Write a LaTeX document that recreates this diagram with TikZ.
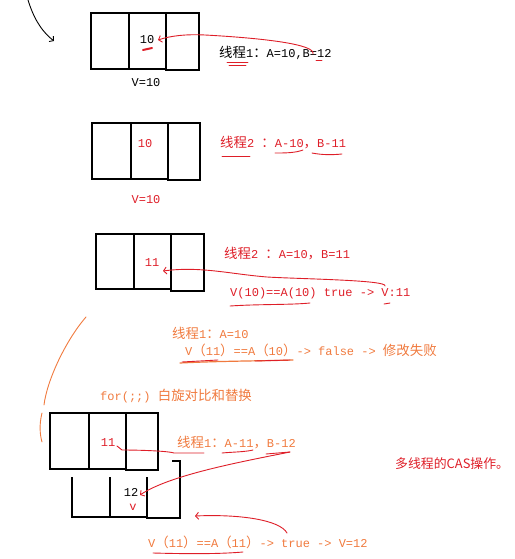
\documentclass[tikz,border=0pt]{standalone}
\usepackage{fontspec}
\setmainfont{Liberation Mono}
\newfontfamily\cjk[Scale=1.12]{Noto Sans CJK SC}
\usetikzlibrary{arrows.meta}
\newcommand\Cj[1]{{\cjk #1}}
\definecolor{myred}{RGB}{222,30,40}
\definecolor{myorange}{RGB}{240,122,62}
\tikzset{
  cell/.style={draw, line width=1.8pt, inner sep=0pt},
  txt/.style={inner sep=0pt, font=\fontsize{12}{14}\selectfont},
  ltxt/.style={txt, anchor=west},
  redline/.style={myred, line width=0.9pt, line cap=round},
  orline/.style={myorange, line width=0.9pt, line cap=round},
  barb/.style={-{Straight Barb[length=3pt,width=7pt]}},
}
\begin{document}
\begin{tikzpicture}[x=1pt,y=-1pt]
\useasboundingbox (0,0) rectangle (514,559);
% ---------- box 1
\node[cell, minimum width=38pt, minimum height=56pt] (b1a) at (110,41) {};
\node[cell, minimum width=37pt, minimum height=56pt] (b1b) at (147.5,41) {};
\node[cell, minimum width=33pt, minimum height=57pt] (b1c) at (182.5,41.5) {};
\node[txt] (v1) at (147,40) {10};
\node[txt] (l1) at (146,83) {V=10};
\node[ltxt] (t1) at (219,53) {\Cj{线程}1\Cj{：}A=10,B=12};
\draw[myred, line width=2pt, line cap=round] (143,50) -- (152,48);
\coordinate (c1s) at (313,54);
\coordinate (c1e) at (158,40);
\draw[redline, barb] (c1s) .. controls (316,44) and (260,38) .. (205,35) .. controls (185,34) and (170,36) .. (c1e);
\draw[redline] (227,62) -- (248,62) (229,65) -- (246,65);
\draw[redline] (316,60) -- (322,60);
% ---------- box 2
\node[cell, minimum width=39pt, minimum height=56pt] (b2a) at (111.5,151) {};
\node[cell, minimum width=37pt, minimum height=56pt] (b2b) at (149.5,151) {};
\node[cell, minimum width=32pt, minimum height=57pt] (b2c) at (184,151.5) {};
\node[txt, myred] (v2) at (145,144) {10};
\node[txt, myred] (l2) at (146,200) {V=10};
\node[ltxt, myred] (t2) at (220,143) {\Cj{线程}2 \Cj{：}A-10\Cj{，}B-11};
\draw[redline] (222,156) -- (250,156);
\draw[redline] (275,153) .. controls (285,153) and (295,153) .. (303,150);
\draw[redline] (312,153) .. controls (322,155) and (332,155) .. (342,154);
% ---------- box 3
\node[cell, minimum width=38pt, minimum height=55pt] (b3a) at (115,261.5) {};
\node[cell, minimum width=37pt, minimum height=55pt] (b3b) at (152.5,261.5) {};
\node[cell, minimum width=33pt, minimum height=57pt] (b3c) at (187.5,262.5) {};
\node[txt, myred] (v3) at (152,263) {11};
\node[ltxt, myred] (t3) at (224,254) {\Cj{线程}2 \Cj{：}A=10\Cj{，}B=11};
\node[ltxt, myred] (t3b) at (230,293) {V(10)==A(10) true -> V:11};
\coordinate (c3s) at (385,286);
\coordinate (c3e) at (163,271);
\draw[redline, barb] (c3s) .. controls (388,280) and (300,279) .. (267,277) .. controls (230,274) and (200,266) .. (c3e);
\draw[redline] (230,306) .. controls (260,304) and (290,305) .. (310,303);
\draw[redline] (384,304) -- (390,303);
% ---------- orange texts
\node[ltxt, myorange] (t4) at (172,333) {\Cj{线程}1\Cj{：}A=10};
\node[ltxt, myorange] (t5) at (185,350) {V\Cj{（}11\Cj{）}==A\Cj{（}10\Cj{）}-> false -> \Cj{修改失败}};
\draw[orline, line width=1.2pt] (180,363) .. controls (220,361) and (260,361) .. (293,360);
\draw[redline] (182,362) -- (218,360);
\draw[redline] (255,361) -- (290,360);
\node[ltxt, myorange] (t6) at (100,396) {for(;;) \Cj{白旋对比和替换}};
\draw[orline] (86,317) .. controls (66,340) and (47,380) .. (44,405);
\draw[orline] (42,413) .. controls (39,425) and (40,435) .. (42,442);
% ---------- box 4
\node[cell, minimum width=39pt, minimum height=56pt] (b4a) at (69.5,441) {};
\node[cell, minimum width=37pt, minimum height=56pt] (b4b) at (107.5,441) {};
\node[cell, minimum width=32pt, minimum height=57pt] (b4c) at (142,441.5) {};
\node[txt, myred] (v4) at (108,443) {11};
\node[ltxt, myorange] (t7) at (177,443) {\Cj{线程}1\Cj{：}A-11\Cj{，}B-12};
\coordinate (c4s) at (204,453);
\coordinate (c4e) at (117,446);
\draw[redline] (c4s) -- (174,453) .. controls (168,451) and (140,450) .. (122,450) -- (c4e);
\draw[redline] (222,453) .. controls (232,452) and (245,452) .. (253,450);
\draw[redline] (266,454) -- (290,452);
% ---------- box 5
\coordinate (p1) at (72,477);
\coordinate (p2) at (72,517);
\coordinate (p3) at (147,517);
\draw[line width=1.8pt] (p1) -- (p2) -- (p3);
\draw[line width=1.8pt] (110,477) -- (110,517);
\draw[line width=1.8pt] (147,477) -- (147,518) -- (180,518) -- (180,461) -- (172,461);
\node[txt] (v5) at (131,492) {12};
\node[txt, myred] (v5b) at (133,507) {v};
\coordinate (c5s) at (290,452);
\coordinate (c5e) at (140,495);
\draw[redline, barb] (c5s) .. controls (240,462) and (170,475) .. (c5e);
\coordinate (c6s) at (287,533);
\coordinate (c6e) at (195,516);
\draw[redline, barb] (c6s) .. controls (280,520) and (240,514) .. (c6e);
\node[ltxt, myorange] (t8) at (148,542) {V\Cj{（}11\Cj{）}==A\Cj{（}11\Cj{）}-> true -> V=12};
\draw[redline] (153,553) .. controls (190,554) and (220,554) .. (243,552);
\node[txt, anchor=west, myred] (t9) at (395,464) {\cjk\fontsize{11.5}{14}\selectfont 多线程的CAS操作。};
% ---------- top-left arrow
\coordinate (c0s) at (28,0);
\coordinate (c0e) at (54,41);
\draw[line width=0.9pt, barb] (c0s) .. controls (33,16) and (40,30) .. (c0e);
\end{tikzpicture}
\end{document}
